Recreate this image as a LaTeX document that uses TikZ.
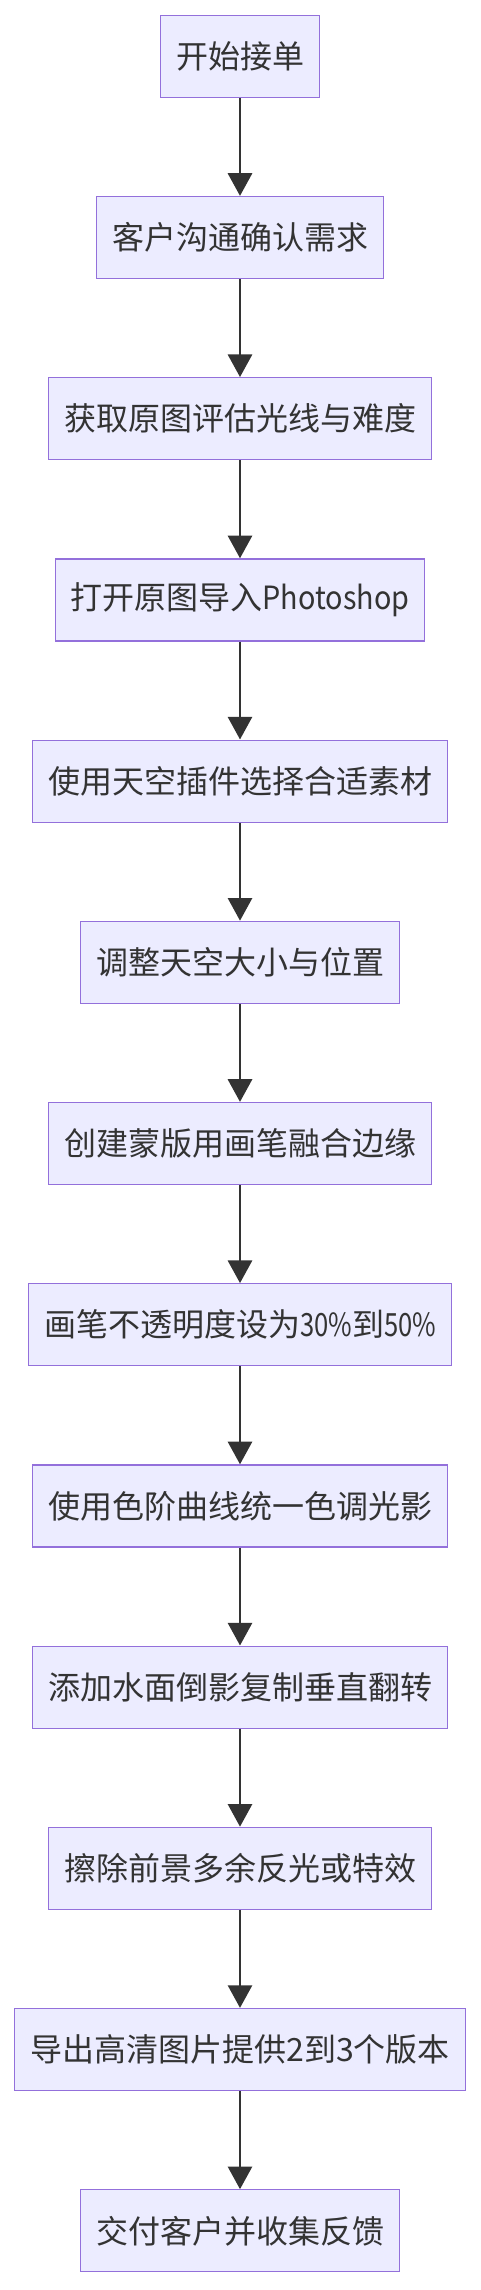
\documentclass[tikz,border=0pt]{standalone}
\usepackage{fontspec}
\setmainfont{Noto Sans CJK SC}
\usetikzlibrary{arrows.meta}
\definecolor{nodefill}{HTML}{ECECFF}
\definecolor{nodeline}{HTML}{9370DB}
\definecolor{txt}{HTML}{333333}
\newcommand{\latrun}[2][0.9]{\scalebox{#1}[1]{#2}}
\tikzset{
  stepbox/.style={draw=nodeline, fill=nodefill, line width=0.9pt, text=txt,
    font=\fontsize{24pt}{28pt}\selectfont, inner xsep=11.6pt, inner ysep=0pt,
    minimum height=61.5pt, anchor=center},
  flow/.style={draw=txt, line width=2.2pt, -{Triangle[width=18pt,length=17pt]}}
}
\begin{document}
\begin{tikzpicture}[x=0.75pt,y=-0.75pt]
\useasboundingbox (0,0) rectangle (480,2290);
\node[stepbox] (n1)  at (240,56.3)   {开始接单};
\node[stepbox] (n2)  at (240,237.5)  {客户沟通确认需求};
\node[stepbox] (n3)  at (240,418.7)  {获取原图评估光线与难度};
\node[stepbox] (n4)  at (240,599.9)  {打开原图导入\latrun{Photoshop}};
\node[stepbox] (n5)  at (240,781.1)  {使用天空插件选择合适素材};
\node[stepbox] (n6)  at (240,962.3)  {调整天空大小与位置};
\node[stepbox] (n7)  at (240,1143.5) {创建蒙版用画笔融合边缘};
\node[stepbox] (n8)  at (240,1324.7) {画笔不透明度设为\latrun[0.8]{30\%}到\latrun[0.8]{50\%}};
\node[stepbox] (n9)  at (240,1505.9) {使用色阶曲线统一色调光影};
\node[stepbox] (n10) at (240,1687.1) {添加水面倒影复制垂直翻转};
\node[stepbox] (n11) at (240,1868.3) {擦除前景多余反光或特效};
\node[stepbox] (n12) at (240,2049.5) {导出高清图片提供2到3个版本};
\node[stepbox] (n13) at (240,2230.8) {交付客户并收集反馈};
\foreach \a/\b in {n1/n2,n2/n3,n3/n4,n4/n5,n5/n6,n6/n7,n7/n8,n8/n9,n9/n10,n10/n11,n11/n12,n12/n13}
  \draw[flow] (\a.south) -- (\b.north);
\end{tikzpicture}
\end{document}
